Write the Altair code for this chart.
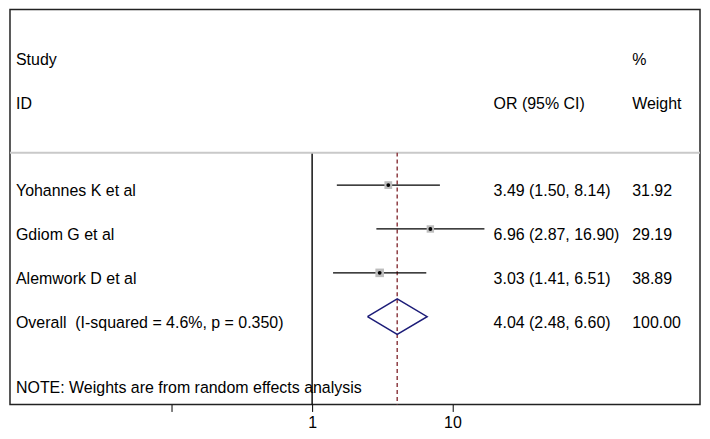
import altair as alt
import pandas as pd

# ---- data ----
studies = ["Yohannes K et al", "Gdiom G et al", "Alemwork D et al"]
odds = [3.49, 6.96, 3.03]
ci_low = [1.50, 2.87, 1.41]
ci_high = [8.14, 16.90, 6.51]
weights = [31.92, 29.19, 38.89]

overall_label = "Overall\u00a0 (I-squared = 4.6%, p = 0.350)"
overall_or = 4.04
overall_lo = 2.48
overall_hi = 6.60
overall_weight = 100.00

note_text = "NOTE: Weights are from random effects analysis"
tick_values = [0.1, 1, 10]
null_value = [1]

# ---- layout constants (row units) ----
W, H = 692, 396
FONT = "Liberation Sans"
FS = 16
ROW_SEP = 0.26      # grey separator row position
HEAD1, HEAD2 = -1.84, -0.85
NOTE_ROW = 5.62
Y_DOM = [-3, 6]
X_DOM = [0.00703, 581]
COL_LABEL, COL_OR, COL_W = 6, 485, 624
TXT_DY = 6

yscale = alt.Scale(domain=Y_DOM, reverse=True, nice=False, zero=False)
xscale = alt.Scale(type="log", domain=X_DOM, nice=False)

studies_df = pd.DataFrame({
    "study": studies,
    "or": odds,
    "lo": ci_low,
    "hi": ci_high,
    "weight": weights,
    "row": [1, 2, 3],
})

rows_df = pd.DataFrame({
    "label": studies + [overall_label],
    "or_text": [f"{o:.2f} ({l:.2f}, {h:.2f})" for o, l, h in
                zip(odds + [overall_or], ci_low + [overall_lo], ci_high + [overall_hi])],
    "w_text": [f"{w:.2f}" for w in weights + [overall_weight]],
    "row": [1, 2, 3, 4],
})

diamond_df = pd.DataFrame({
    "x": [overall_lo, overall_or, overall_hi, overall_or, overall_lo],
    "row": [4, 4 - 0.405, 4, 4 + 0.405, 4],
    "o": [0, 1, 2, 3, 4],
})

head_left = pd.DataFrame({"t": ["Study", "ID"], "row": [HEAD1, HEAD2]})
head_or = pd.DataFrame({"t": ["OR (95% CI)"], "row": [HEAD2]})
head_w = pd.DataFrame({"t": ["%", "Weight"], "row": [HEAD1, HEAD2]})
note_df = pd.DataFrame({"t": [note_text], "row": [NOTE_ROW]})
null_df = pd.DataFrame({"x": null_value, "y1": [ROW_SEP], "y2": [Y_DOM[1]]})
pooled_df = pd.DataFrame({"x": [overall_or], "y1": [ROW_SEP], "y2": [Y_DOM[1]]})
sep_df = pd.DataFrame({"row": [ROW_SEP]})

x_axis = alt.Axis(values=tick_values, labelExpr="datum.value >= 1 ? datum.value + '' : ''",
                  grid=False, domain=False, title=None, ticks=True, tickSize=7,
                  tickColor="black", tickWidth=1, labels=True, labelFontSize=FS,
                  labelColor="black", labelFont=FONT, labelPadding=3)

X = lambda f: alt.X(f, scale=xscale, axis=x_axis)
Y = lambda f: alt.Y(f, scale=yscale, axis=None)

sep = alt.Chart(sep_df).mark_rule(color="#c9c9c9", strokeWidth=2).encode(
    x=alt.value(0), x2=alt.value(W), y=Y("row:Q"))

null_line = alt.Chart(null_df).mark_rule(color="black", strokeWidth=1.4).encode(
    x=X("x:Q"), y=Y("y1:Q"), y2="y2:Q")

pooled_line = alt.Chart(pooled_df).mark_rule(color="#8e3e44", strokeWidth=1.5,
                                             strokeDash=[4, 3]).encode(
    x=X("x:Q"), y=Y("y1:Q"), y2="y2:Q")

ci = alt.Chart(studies_df).mark_rule(color="black", strokeWidth=1.3).encode(
    x=X("lo:Q"), x2="hi:Q", y=Y("row:Q"))

boxes = alt.Chart(studies_df).mark_square(color="#bdbdbd", opacity=1).encode(
    x=X("or:Q"), y=Y("row:Q"),
    size=alt.Size("weight:Q", scale=alt.Scale(domain=[0, 100], range=[0, 190]), legend=None))

dots = alt.Chart(studies_df).mark_circle(color="black", opacity=1, size=15).encode(
    x=X("or:Q"), y=Y("row:Q"))

diamond = alt.Chart(diamond_df).mark_line(color="#1c1c78", strokeWidth=1.5).encode(
    x=X("x:Q"), y=Y("row:Q"), order="o:Q")

def text_layer(df, field, xpx, dy=0):
    return alt.Chart(df).mark_text(align="left", baseline="middle", font=FONT,
                                   fontSize=FS, color="black", dy=dy).encode(
        x=alt.value(xpx), y=Y("row:Q"), text=f"{field}:N")

labels = text_layer(rows_df, "label", COL_LABEL, TXT_DY)
or_txt = text_layer(rows_df, "or_text", COL_OR, TXT_DY)
w_txt = text_layer(rows_df, "w_text", COL_W, TXT_DY)
h1 = text_layer(head_left, "t", COL_LABEL)
h2 = text_layer(head_or, "t", COL_OR)
h3 = text_layer(head_w, "t", COL_W)
note = text_layer(note_df, "t", COL_LABEL)

chart = alt.layer(
    null_line, sep, pooled_line, ci, boxes, dots, diamond,
    labels, or_txt, w_txt, h1, h2, h3, note
).properties(
    width=W, height=H,
    padding={"left": 1, "right": 1, "top": 1, "bottom": 0},
).configure(
    font=FONT, background="white",
    view=alt.ViewConfig(stroke="#222222", strokeWidth=1.5),
)

chart.save("out.html", embed_options={"renderer": "svg", "actions": False})
